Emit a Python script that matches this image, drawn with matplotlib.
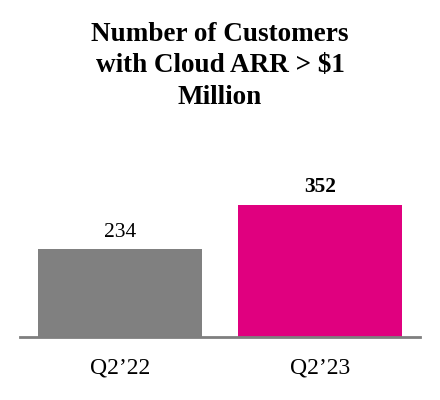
import matplotlib.pyplot as plt

plt.rcParams['font.family'] = ['Liberation Serif', 'DejaVu Serif']

# data
periods = ["Q2\u201922", "Q2\u201923"]
customers = [234, 352]
bar_colors = ["#808080", "#E0007F"]
label_bold = [False, True]

fig = plt.figure(figsize=(4.4, 4.0), dpi=100)
ax = fig.add_axes([20 / 440, 1 - 337 / 400, 400 / 440, 187.5 / 400])

x = range(len(periods))
bars = ax.bar(x, customers, width=0.82, color=bar_colors)

for bar, val, bold in zip(bars, customers, label_bold):
    ax.text(bar.get_x() + bar.get_width() / 2, val + 20, str(val),
            ha="center", va="bottom", fontsize=15.5,
            fontweight="bold" if bold else "normal")

ax.set_xlim(-0.5, 1.5)
ax.set_ylim(0, 500)
ax.set_xticks(list(x))
ax.set_xticklabels(periods, fontsize=17)
ax.tick_params(axis="x", length=0, pad=15)
ax.set_yticks([])
for side in ["top", "right", "left"]:
    ax.spines[side].set_visible(False)
ax.spines["bottom"].set_color("#7f7f7f")
ax.spines["bottom"].set_linewidth(2)

fig.text(0.5, 1 - 66 / 400, "Number of Customers\nwith Cloud ARR > $1\nMillion",
         ha="center", va="center", fontsize=19.5, fontweight="bold",
         linespacing=1.33)

fig.savefig("out.png", dpi=100)
